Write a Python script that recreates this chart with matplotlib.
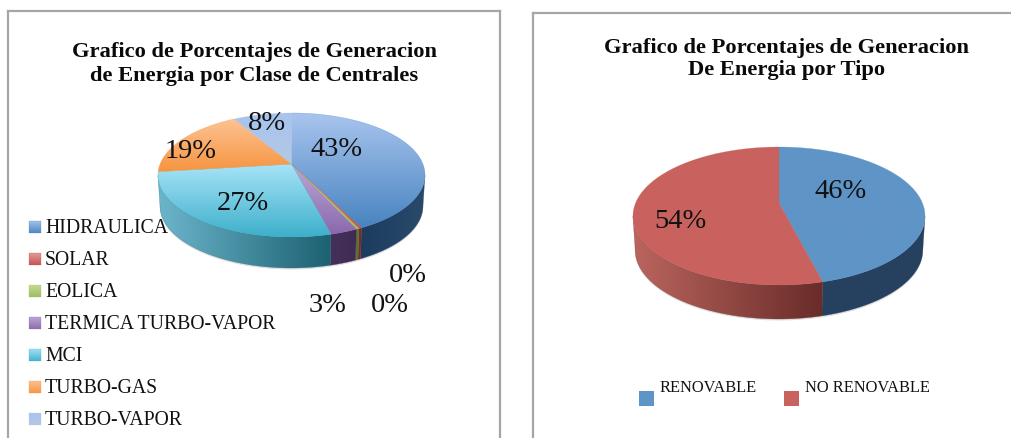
import numpy as np
import matplotlib
matplotlib.use("Agg")
import matplotlib.pyplot as plt
from matplotlib.colors import to_rgb
from matplotlib.patches import Polygon, Rectangle

# ---- data ----
class_labels = ["HIDRAULICA", "SOLAR", "EOLICA", "TERMICA TURBO-VAPOR", "MCI", "TURBO-GAS", "TURBO-VAPOR"]
class_values = [42.6, 0.3, 0.3, 2.8, 27.0, 18.6, 8.4]
type_labels = ["RENOVABLE", "NO RENOVABLE"]
type_values = [46.0, 54.0]
title_left = "Grafico de Porcentajes de Generacion\nde Energia por Clase de Centrales"
title_right = "Grafico de Porcentajes de Generacion\nDe Energia por Tipo"

# ---- styles ----
FONT = "Liberation Serif"
class_top = [("#a9c5ee", "#4783c0"), ("#e8a09c", "#c0504d"), ("#c8dc98", "#9bbb59"), ("#bcaad4", "#8a68ae"),
             ("#a8e4f8", "#3cafca"), ("#fdc393", "#f6943f"), ("#a7c4ef", "#b3c8e4")]
class_wall = [("#1b3c5e", "#2a4a6c"), ("#7a2a28", "#7a2a28"), ("#5c7030", "#5c7030"), ("#45305a", "#3e2b52"),
              ("#6cb6cc", "#1c6172"), ("#c07a3a", "#c07a3a"), ("#8aa0c0", "#8aa0c0")]
type_top = [("#5f94c7", "#5f94c7"), ("#c9625e", "#c9625e")]
type_wall = [("#26415f", "#26415f"), ("#bb655e", "#682c29")]

fig = plt.figure(figsize=(10.11, 4.38), dpi=100, facecolor="white")
ax = fig.add_axes([0, 0, 1, 1])
ax.set_xlim(0, 1011)
ax.set_ylim(438, 0)
ax.axis("off")


def gradient(poly_xy, c0, c1, zorder, horizontal=False):
    """Fill a polygon with a vertical (or horizontal) gradient from c0 to c1."""
    poly = Polygon(poly_xy, closed=True, fc="none", ec="none", zorder=zorder)
    ax.add_patch(poly)
    x0, y0 = np.min(poly_xy, axis=0)
    x1, y1 = np.max(poly_xy, axis=0)
    s = np.linspace(0, 1, 128)
    s = s[None, :, None] if horizontal else s[:, None, None]
    img = (1 - s) * np.array(to_rgb(c0))[None, None, :] + s * np.array(to_rgb(c1))[None, None, :]
    im = ax.imshow(img, extent=(x0 - 1, x1 + 1, y1 + 1, y0 - 1), aspect="auto", origin="upper",
                   interpolation="bilinear", zorder=zorder)
    im.set_clip_path(poly)
    # hairline so that thin slices stay visible
    ax.add_patch(Polygon(poly_xy, closed=True, fc="none", ec=c1, lw=0.3, alpha=0.6, zorder=zorder))


def pie3d(values, top_colors, wall_colors, cx, apex_y, top_y, front_y, rx, depth, shrink):
    """Perspective pie, clockwise from 12 o'clock, driven by the values."""
    back, front = apex_y - top_y, front_y - apex_y
    c = (front - back) / (front + back)
    a = back * (1 + c)
    k = rx * np.sqrt(1 - c ** 2)

    def project(t):
        x, y = np.sin(t), np.cos(t)
        d = 1 + c * y
        return k * x / d, -a * y / d

    edges = np.cumsum([0] + list(values)) / np.sum(values) * 2 * np.pi
    # soft shadow under the body
    t = np.linspace(0, 2 * np.pi, 200)
    X, Y = project(t)
    ax.add_patch(Polygon(np.column_stack([cx + X * shrink, apex_y + Y + depth + 1.5]), closed=True,
                         fc="#808080", ec="none", alpha=0.25, zorder=2))
    # side wall (only the part turned towards the viewer)
    for i in range(len(values)):
        t = np.linspace(edges[i], edges[i + 1], max(6, int((edges[i + 1] - edges[i]) * 120)))
        t = t[np.cos(t) < -c]
        if len(t) < 2:
            continue
        X, Y = project(t)
        pts = np.column_stack([np.r_[cx + X, cx + X[::-1] * shrink],
                               np.r_[apex_y + Y, apex_y + Y[::-1] + depth]])
        gradient(pts, wall_colors[i][0], wall_colors[i][1], 3 + i * 0.01, horizontal=True)
    # top face
    for i in range(len(values)):
        t = np.linspace(edges[i], edges[i + 1], max(6, int((edges[i + 1] - edges[i]) * 120)))
        X, Y = project(t)
        pts = np.column_stack([np.r_[cx, cx + X], np.r_[apex_y, apex_y + Y]])
        gradient(pts, top_colors[i][0], top_colors[i][1], 4 + i * 0.01)


# ---- frames ----
frame = "#a6a6a6"
ax.plot([8, 8], [445, 11], color=frame, lw=1.6, zorder=1)
ax.plot([8, 500], [11, 11], color=frame, lw=1.6, zorder=1)
ax.plot([500, 500], [11, 445], color=frame, lw=1.6, zorder=1)
ax.plot([533, 533], [445, 13], color=frame, lw=1.6, zorder=1)
ax.plot([533, 1015], [13, 13], color=frame, lw=1.6, zorder=1)

# ---- titles ----
TS = 16.2
ax.text(254, 64, title_left, ha="center", va="center", family=FONT, weight="bold", fontsize=TS,
        linespacing=1.2, color="#0a0a0a", zorder=6)
ax.text(787, 59, title_right, ha="center", va="center", family=FONT, weight="bold", fontsize=TS,
        linespacing=1.2, color="#0a0a0a", zorder=6)

# ---- pies ----
pie3d(class_values, class_top, class_wall, 291.5, 164, 113, 237, 133.5, 31, 0.985)
pie3d(type_values, type_top, type_wall, 779, 203, 147, 285, 146, 34, 0.985)

# ---- percentage labels ----
PS = 20.5
class_pct_pos = [(337, 149), (408, 276), (390, 305), (328, 305), (243, 203), (191, 152), (267, 124)]
for v, (x, y) in zip(class_values, class_pct_pos):
    ax.text(x, y, f"{round(v)}%", ha="center", va="center", family=FONT, fontsize=PS, color="#111111", zorder=7)
type_pct_pos = [(841, 191), (680, 222)]
for v, (x, y) in zip(type_values, type_pct_pos):
    ax.text(x, y, f"{round(v)}%", ha="center", va="center", family=FONT, fontsize=PS, color="#111111", zorder=7)

# ---- legends ----
for i, lab in enumerate(class_labels):
    yc = 227 + i * 32
    gradient(np.array([(29, yc - 6), (41, yc - 6), (41, yc + 6), (29, yc + 6)]),
             class_top[i][0], class_top[i][1], 8)
    ax.text(45, yc + 1.5, lab, ha="left", va="center", family=FONT, fontsize=14.2, color="#111111", zorder=9)

for i, (lab, sx, tx) in enumerate(zip(type_labels, (639, 784), (659, 805))):
    ax.add_patch(Rectangle((sx, 391), 15, 15, fc=type_top[i][0], ec="none", zorder=8))
    ax.text(tx, 388, lab, ha="left", va="center", family=FONT, fontsize=11.8, color="#111111", zorder=9)

ax.set_xlim(0, 1011)
ax.set_ylim(438, 0)
fig.savefig("out.png", dpi=100, facecolor="white")
